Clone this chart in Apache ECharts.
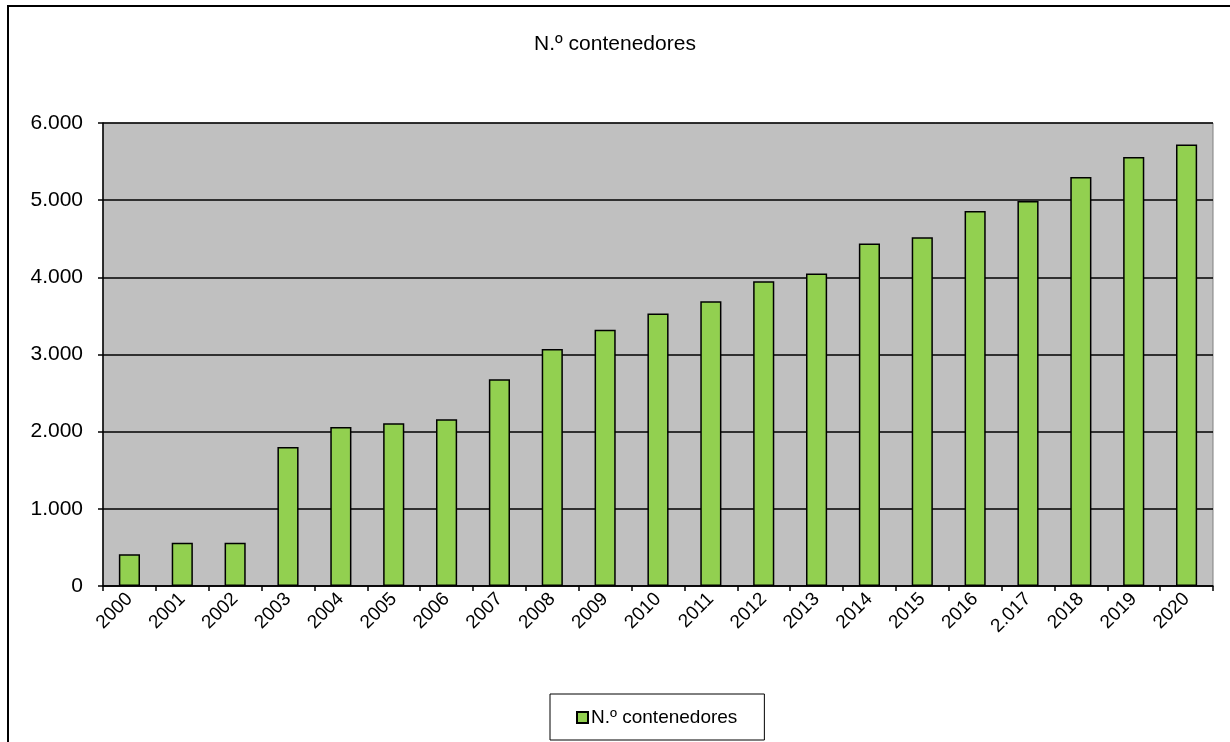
<!DOCTYPE html>
<html>
<head>
<meta charset="utf-8">
<script src="https://cdn.jsdelivr.net/npm/echarts@6/dist/echarts.min.js"></script>
<style>
html,body{margin:0;padding:0;background:#fff;}
#c{width:1230px;height:742px;}
</style>
</head>
<body>
<div id="c"></div>
<script>
const titleText = 'N.º contenedores';
const seriesName = 'N.º contenedores';
const categories = ['2000','2001','2002','2003','2004','2005','2006','2007','2008','2009','2010','2011','2012','2013','2014','2015','2016','2.017','2018','2019','2020'];
const values = [410,560,560,1800,2060,2110,2160,2680,3070,3320,3530,3690,3950,4050,4440,4520,4860,4990,5300,5560,5720];
const yTicks = [0,1000,2000,3000,4000,5000,6000];

const chart = echarts.init(document.getElementById('c'));
const fmt = v => String(v).replace(/\B(?=(\d{3})+(?!\d))/g, '.');
chart.setOption({
  animation:false,
  textStyle:{fontFamily:'Liberation Sans, Arial, sans-serif', color:'#000'},
  graphic:[{type:'rect', shape:{x:8,y:6,width:1240,height:800}, style:{fill:'none', stroke:'#000', lineWidth:2}, z:-1}],
  title:{text:titleText, left:'center', top:29, textStyle:{fontSize:21, fontWeight:'normal', color:'#000', fontFamily:'Liberation Sans, Arial, sans-serif'}},
  legend:{data:[seriesName], bottom:2, left:550, itemWidth:11, itemHeight:11, itemGap:3, borderColor:'#000', borderWidth:1, padding:[14,27,13,26], textStyle:{fontSize:19, color:'#000', padding:[0,0,0,-2]}, icon:'rect'},
  grid:{left:103, right:17, top:123, bottom:156, show:true, backgroundColor:'#C0C0C0', borderColor:'#808080', borderWidth:1},
  xAxis:{type:'category', data:categories, boundaryGap:true,
    axisLine:{lineStyle:{color:'#000', width:1.5}},
    axisTick:{show:true, length:5, lineStyle:{color:'#000', width:1.5}},
    axisLabel:{rotate:45, fontSize:19, color:'#000', margin:10, interval:0}},
  yAxis:{type:'value', min:0, max:6000, interval:1000,
    axisLine:{show:true, lineStyle:{color:'#000', width:1.5}},
    axisTick:{show:true, length:5, lineStyle:{color:'#000', width:1.5}},
    axisLabel:{fontSize:21, color:'#000', margin:20, formatter:v=>fmt(v)},
    splitLine:{show:true, lineStyle:{color:'#000', width:1.5}}},
  series:[{name:seriesName, type:'bar', data:values, barWidth:'40%',
    itemStyle:{color:'#92D050', borderColor:'#000', borderWidth:1.5}}]
});
</script>
</body>
</html>
